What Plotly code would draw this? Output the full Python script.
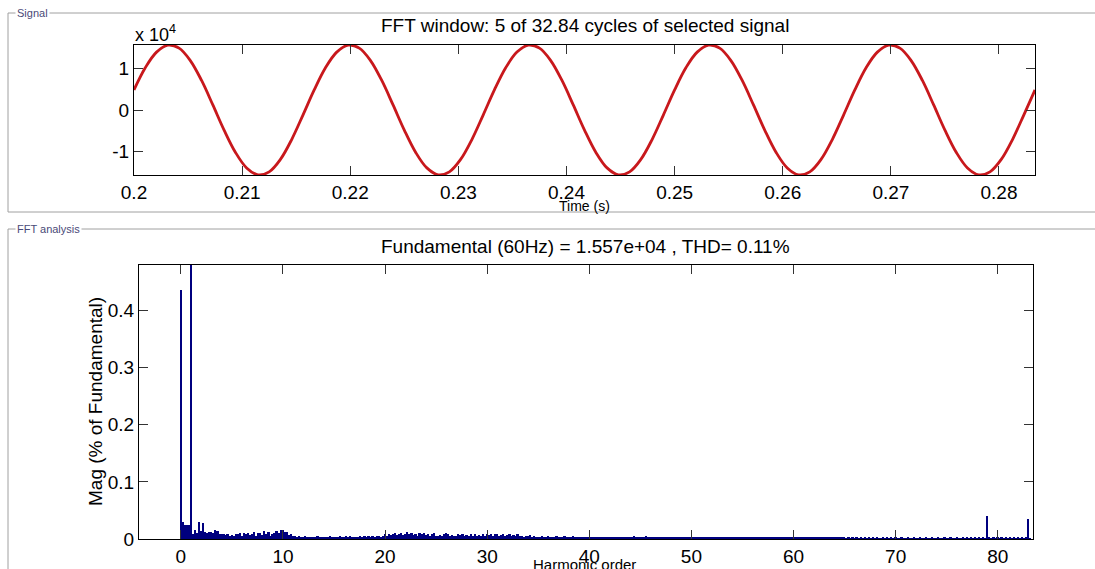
import plotly.graph_objects as go

# ---------------- data ----------------
sig_t0 = 0.2
sig_dt = 1 / 960
sig_value = [
    0.481, 1.011, 1.387, 1.552, 1.481, 1.184, 0.707, 0.122,
    -0.481, -1.011, -1.387, -1.552, -1.481, -1.184, -0.707, -0.122,
    0.481, 1.011, 1.387, 1.552, 1.481, 1.184, 0.707, 0.122,
    -0.481, -1.011, -1.387, -1.552, -1.481, -1.184, -0.707, -0.122,
    0.481, 1.011, 1.387, 1.552, 1.481, 1.184, 0.707, 0.122,
    -0.481, -1.011, -1.387, -1.552, -1.481, -1.184, -0.707, -0.122,
    0.481, 1.011, 1.387, 1.552, 1.481, 1.184, 0.707, 0.122,
    -0.481, -1.011, -1.387, -1.552, -1.481, -1.184, -0.707, -0.122,
    0.481, 1.011, 1.387, 1.552, 1.481, 1.184, 0.707, 0.122,
    -0.481, -1.011, -1.387, -1.552, -1.481, -1.184, -0.707, -0.122,
    0.481,
]
sig_time = [sig_t0 + i * sig_dt for i in range(len(sig_value))]

# FFT magnitude (% of fundamental), bins every 0.2 harmonic order, 5 bins per row (orders n .. n+0.8)
fft_mag = [
    0.437, 0.030, 0.024, 0.025, 0.024,   # 0
    100.0, 0.008, 0.016, 0.010, 0.030,   # 1
    0.014, 0.028, 0.013, 0.011, 0.012,   # 2
    0.013, 0.010, 0.015, 0.014, 0.009,   # 3
    0.008, 0.009, 0.007, 0.008, 0.006,   # 4
    0.007, 0.005, 0.009, 0.008, 0.010,   # 5
    0.006, 0.011, 0.009, 0.010, 0.007,   # 6
    0.008, 0.013, 0.006, 0.011, 0.010,   # 7
    0.007, 0.014, 0.009, 0.012, 0.006,   # 8
    0.009, 0.011, 0.014, 0.010, 0.015,   # 9
    0.016, 0.013, 0.012, 0.007, 0.008,   # 10
    0.006, 0.005, 0.004, 0.005, 0.003,   # 11
    0.004, 0.005, 0.003, 0.004, 0.003,   # 12
    0.004, 0.003, 0.005, 0.004, 0.003,   # 13
    0.004, 0.003, 0.004, 0.005, 0.003,   # 14
    0.003, 0.004, 0.003, 0.005, 0.004,   # 15
    0.004, 0.006, 0.003, 0.005, 0.004,   # 16
    0.003, 0.004, 0.003, 0.005, 0.004,   # 17
    0.005, 0.003, 0.006, 0.004, 0.005,   # 18
    0.004, 0.006, 0.005, 0.004, 0.006,   # 19
    0.008, 0.006, 0.009, 0.007, 0.008,   # 20
    0.010, 0.007, 0.008, 0.011, 0.007,   # 21
    0.009, 0.012, 0.008, 0.010, 0.007,   # 22
    0.009, 0.006, 0.010, 0.008, 0.011,   # 23
    0.007, 0.009, 0.006, 0.008, 0.010,   # 24
    0.006, 0.005, 0.007, 0.006, 0.009,   # 25
    0.010, 0.008, 0.006, 0.007, 0.005,   # 26
    0.006, 0.009, 0.007, 0.008, 0.006,   # 27
    0.007, 0.005, 0.009, 0.006, 0.008,   # 28
    0.006, 0.007, 0.005, 0.008, 0.006,   # 29
    0.009, 0.007, 0.008, 0.006, 0.009,   # 30
    0.008, 0.006, 0.007, 0.009, 0.006,   # 31
    0.007, 0.008, 0.005, 0.007, 0.006,   # 32
    0.008, 0.005, 0.006, 0.004, 0.006,   # 33
    0.005, 0.007, 0.004, 0.005, 0.003,   # 34
    0.004, 0.003, 0.005, 0.003, 0.004,   # 35
    0.005, 0.003, 0.004, 0.003, 0.005,   # 36
    0.004, 0.003, 0.004, 0.005, 0.003,   # 37
    0.004, 0.003, 0.005, 0.004, 0.003,   # 38
    0.004, 0.003, 0.004, 0.003, 0.004,   # 39
    0.003, 0.004, 0.003, 0.004, 0.003,   # 40
    0.004, 0.003, 0.003, 0.004, 0.003,   # 41
    0.003, 0.004, 0.003, 0.003, 0.004,   # 42
    0.003, 0.002, 0.003, 0.004, 0.003,   # 43
    0.004, 0.003, 0.005, 0.003, 0.004,   # 44
    0.003, 0.004, 0.003, 0.005, 0.003,   # 45
    0.004, 0.003, 0.004, 0.003, 0.002,   # 46
    0.003, 0.002, 0.003, 0.002, 0.003,   # 47
    0.002, 0.003, 0.002, 0.003, 0.002,   # 48
    0.003, 0.002, 0.003, 0.002, 0.002,   # 49
    0.003, 0.002, 0.002, 0.003, 0.002,   # 50
    0.002, 0.003, 0.002, 0.002, 0.003,   # 51
    0.002, 0.002, 0.003, 0.002, 0.002,   # 52
    0.003, 0.002, 0.002, 0.003, 0.002,   # 53
    0.002, 0.003, 0.002, 0.002, 0.002,   # 54
    0.003, 0.002, 0.003, 0.002, 0.002,   # 55
    0.002, 0.003, 0.002, 0.002, 0.003,   # 56
    0.002, 0.002, 0.003, 0.002, 0.002,   # 57
    0.003, 0.002, 0.002, 0.002, 0.003,   # 58
    0.002, 0.003, 0.002, 0.002, 0.002,   # 59
    0.002, 0.002, 0.003, 0.002, 0.002,   # 60
    0.003, 0.002, 0.002, 0.003, 0.002,   # 61
    0.002, 0.002, 0.003, 0.002, 0.002,   # 62
    0.002, 0.003, 0.002, 0.002, 0.002,   # 63
    0.002, 0.002, 0.002, 0.003, 0.002,   # 64
    0.002, 0.0015, 0.002, 0.0015, 0.002, # 65
    0.0015, 0.002, 0.0015, 0.002, 0.0015,# 66
    0.002, 0.0015, 0.002, 0.0015, 0.002, # 67
    0.0015, 0.002, 0.0015, 0.0015, 0.002,# 68
    0.0015, 0.002, 0.0015, 0.002, 0.0015,# 69
    0.002, 0.0015, 0.0015, 0.002, 0.0015,# 70
    0.0015, 0.002, 0.0015, 0.0015, 0.002,# 71
    0.0015, 0.0015, 0.002, 0.0015, 0.0015,# 72
    0.002, 0.0015, 0.0015, 0.002, 0.0015,# 73
    0.0015, 0.002, 0.0015, 0.0015, 0.002,# 74
    0.0015, 0.0015, 0.002, 0.0015, 0.0015,# 75
    0.002, 0.0015, 0.0015, 0.002, 0.0015,# 76
    0.003, 0.0015, 0.002, 0.0015, 0.002, # 77
    0.0015, 0.002, 0.0015, 0.002, 0.0015,# 78
    0.040, 0.002, 0.0015, 0.002, 0.0015, # 79
    0.002, 0.0015, 0.002, 0.0015, 0.002, # 80
    0.0015, 0.002, 0.0015, 0.002, 0.0015,# 81
    0.002, 0.0015, 0.002, 0.0015, 0.002, # 82
    0.035, 0.0015,                       # 83
]
harm_order = [round(i * 0.2, 1) for i in range(len(fft_mag))]

time_ticks = [0.2, 0.21, 0.22, 0.23, 0.24, 0.25, 0.26, 0.27, 0.28]
time_ticktext = ["0.2", "0.21", "0.22", "0.23", "0.24", "0.25", "0.26", "0.27", "0.28"]
sig_ticks = [-1, 0, 1]
sig_ticktext = ["-1", "0", "1"]
harm_ticks = [0, 10, 20, 30, 40, 50, 60, 70, 80]
mag_ticks = [0, 0.1, 0.2, 0.3, 0.4]
mag_ticktext = ["0", "0.1", "0.2", "0.3", "0.4"]

# ---------------- figure ----------------
W, H = 1095, 569
FONT = "Liberation Sans, Arial, sans-serif"


def px(x):
    return x / W


def py(y):
    return 1 - y / H


fig = go.Figure()
fig.add_trace(go.Scatter(x=sig_time, y=sig_value, mode="lines",
                         line=dict(color="#C8181C", width=2.8, shape="spline", smoothing=1.0),
                         xaxis="x", yaxis="y", hoverinfo="skip", showlegend=False))
fig.add_trace(go.Bar(x=harm_order, y=fft_mag, width=0.17,
                     marker=dict(color="#00007F", line=dict(width=0)),
                     xaxis="x2", yaxis="y2", showlegend=False))

axis_common = dict(showline=True, linecolor="black", linewidth=1, mirror="ticks",
                   ticks="inside", ticklen=9, tickcolor="#333333", tickwidth=1,
                   showgrid=False, zeroline=False, automargin=False,
                   tickfont=dict(family=FONT, size=19, color="black"))

fig.update_layout(
    width=W, height=H,
    margin=dict(l=0, r=0, t=0, b=0, autoexpand=False),
    paper_bgcolor="white", plot_bgcolor="white",
    bargap=0,
    xaxis=dict(domain=[px(134), px(1035)], range=[0.2, 0.28333], tickvals=time_ticks,
               ticktext=time_ticktext, anchor="y", **axis_common),
    yaxis=dict(domain=[py(175), py(45)], range=[-1.557, 1.557], tickvals=sig_ticks,
               ticktext=sig_ticktext, anchor="x", **axis_common),
    xaxis2=dict(domain=[px(139), px(1033)], range=[-4.1, 83.45], tickvals=harm_ticks,
                anchor="y2", **axis_common),
    yaxis2=dict(domain=[py(539), py(265)], range=[0, 0.48], tickvals=mag_ticks,
                ticktext=mag_ticktext, anchor="x2", **axis_common),
)

line_col = "#A0A0A0"
shapes = [
    # Signal panel
    dict(type="line", xref="paper", yref="paper", x0=px(8), x1=1, y0=py(13), y1=py(13)),
    dict(type="line", xref="paper", yref="paper", x0=px(8), x1=px(8), y0=py(13), y1=py(212)),
    dict(type="line", xref="paper", yref="paper", x0=px(8), x1=1, y0=py(212), y1=py(212)),
    # FFT panel
    dict(type="line", xref="paper", yref="paper", x0=px(8), x1=1, y0=py(229), y1=py(229)),
    dict(type="line", xref="paper", yref="paper", x0=px(8), x1=px(8), y0=py(229), y1=0),
]
for s in shapes:
    s["line"] = dict(color=line_col, width=1)
    s["layer"] = "below"
fig.update_layout(shapes=shapes)

ann = [
    dict(text="Signal", x=px(15), y=py(13), xanchor="left", yanchor="middle",
         font=dict(family=FONT, size=11, color="#4A4A78"), bgcolor="white", borderpad=1),
    dict(text="FFT analysis", x=px(15), y=py(229), xanchor="left", yanchor="middle",
         font=dict(family=FONT, size=11, color="#4A4A78"), bgcolor="white", borderpad=1),
    dict(text="FFT window: 5 of 32.84 cycles of selected signal", x=px(585), y=py(25),
         xanchor="center", yanchor="middle", font=dict(family=FONT, size=19, color="black")),
    dict(text="x 10<sup>4</sup>", x=px(133), y=py(33), xanchor="left", yanchor="middle",
         font=dict(family=FONT, size=18, color="black")),
    dict(text="Time (s)", x=px(584), y=py(206), xanchor="center", yanchor="middle",
         font=dict(family=FONT, size=14, color="black")),
    dict(text="Fundamental (60Hz) = 1.557e+04 , THD= 0.11%", x=px(585), y=py(246),
         xanchor="center", yanchor="middle", font=dict(family=FONT, size=19, color="black")),
    dict(text="Harmonic order", x=px(584), y=py(564), xanchor="center", yanchor="middle",
         font=dict(family=FONT, size=15, color="black")),
    dict(text="Mag (% of Fundamental)", x=px(95), y=py(402), xanchor="center", yanchor="middle",
         textangle=-90, font=dict(family=FONT, size=19, color="black")),
]
for a in ann:
    a.update(xref="paper", yref="paper", showarrow=False)
fig.update_layout(annotations=ann)

fig.write_html("out.html")
